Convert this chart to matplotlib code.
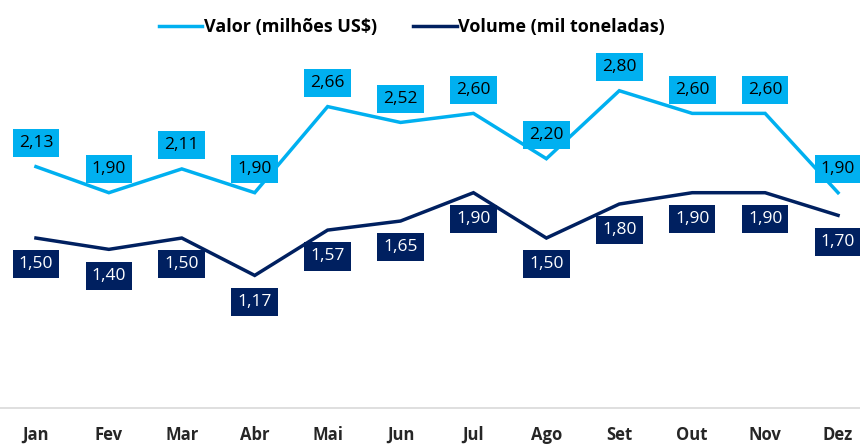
import matplotlib
matplotlib.use("Agg")
import matplotlib.pyplot as plt

months = ["Jan", "Fev", "Mar", "Abr", "Mai", "Jun", "Jul", "Ago", "Set", "Out", "Nov", "Dez"]
valor = [2.13, 1.90, 2.11, 1.90, 2.66, 2.52, 2.60, 2.20, 2.80, 2.60, 2.60, 1.90]
volume = [1.50, 1.40, 1.50, 1.17, 1.57, 1.65, 1.90, 1.50, 1.80, 1.90, 1.90, 1.70]
serie_valor = "Valor (milhões US$)"
serie_volume = "Volume (mil toneladas)"

c_valor = "#00b0f0"
c_volume = "#002060"

plt.rcParams['font.family'] = ['Open Sans', 'DejaVu Sans']

fig = plt.figure(figsize=(8.6, 4.45), dpi=100)
W, H = 860, 445
left_px, right_px = -0.5, 874.5
bottom_px, top_px = 408, 11.4
ax = fig.add_axes([left_px / W, (H - bottom_px) / H, (right_px - left_px) / W, (bottom_px - top_px) / H])

x = list(range(len(months)))
l1, = ax.plot(x, valor, color=c_valor, lw=2.5, label=serie_valor, solid_joinstyle='miter')
l2, = ax.plot(x, volume, color=c_volume, lw=2.5, label=serie_volume, solid_joinstyle='miter')

fmt = lambda v: f"{v:.2f}".replace(".", ",")
for xi, v in zip(x, valor):
    ax.annotate(fmt(v), (xi, v), xytext=(0, 17), textcoords="offset points",
                ha="center", va="center", fontsize=12.5, color="black",
                bbox=dict(boxstyle="square,pad=0.35", fc=c_valor, ec="none"))
for xi, v in zip(x, volume):
    ax.annotate(fmt(v), (xi, v), xytext=(0, -19), textcoords="offset points",
                ha="center", va="center", fontsize=12.5, color="white",
                bbox=dict(boxstyle="square,pad=0.35", fc=c_volume, ec="none"))

ax.set_xlim(-0.5, len(months) - 0.5)
ax.set_ylim(0, 3.5)
ax.set_xticks(x)
ax.set_xticklabels(months, fontsize=12, fontweight="bold", color="#262626")
ax.tick_params(axis="x", length=0, pad=13)
ax.set_yticks([])
for s in ["top", "right", "left"]:
    ax.spines[s].set_visible(False)
ax.spines["bottom"].set_color("#d9d9d9")
ax.spines["bottom"].set_linewidth(1.2)

fig.legend(handles=[l1, l2], loc="center", bbox_to_anchor=(412 / W, 1 - 27 / H), ncol=2,
           frameon=False, prop=dict(size=13, weight="bold"), handlelength=2.4,
           columnspacing=2.0, handletextpad=0.1)

fig.savefig("out.png", dpi=100)
